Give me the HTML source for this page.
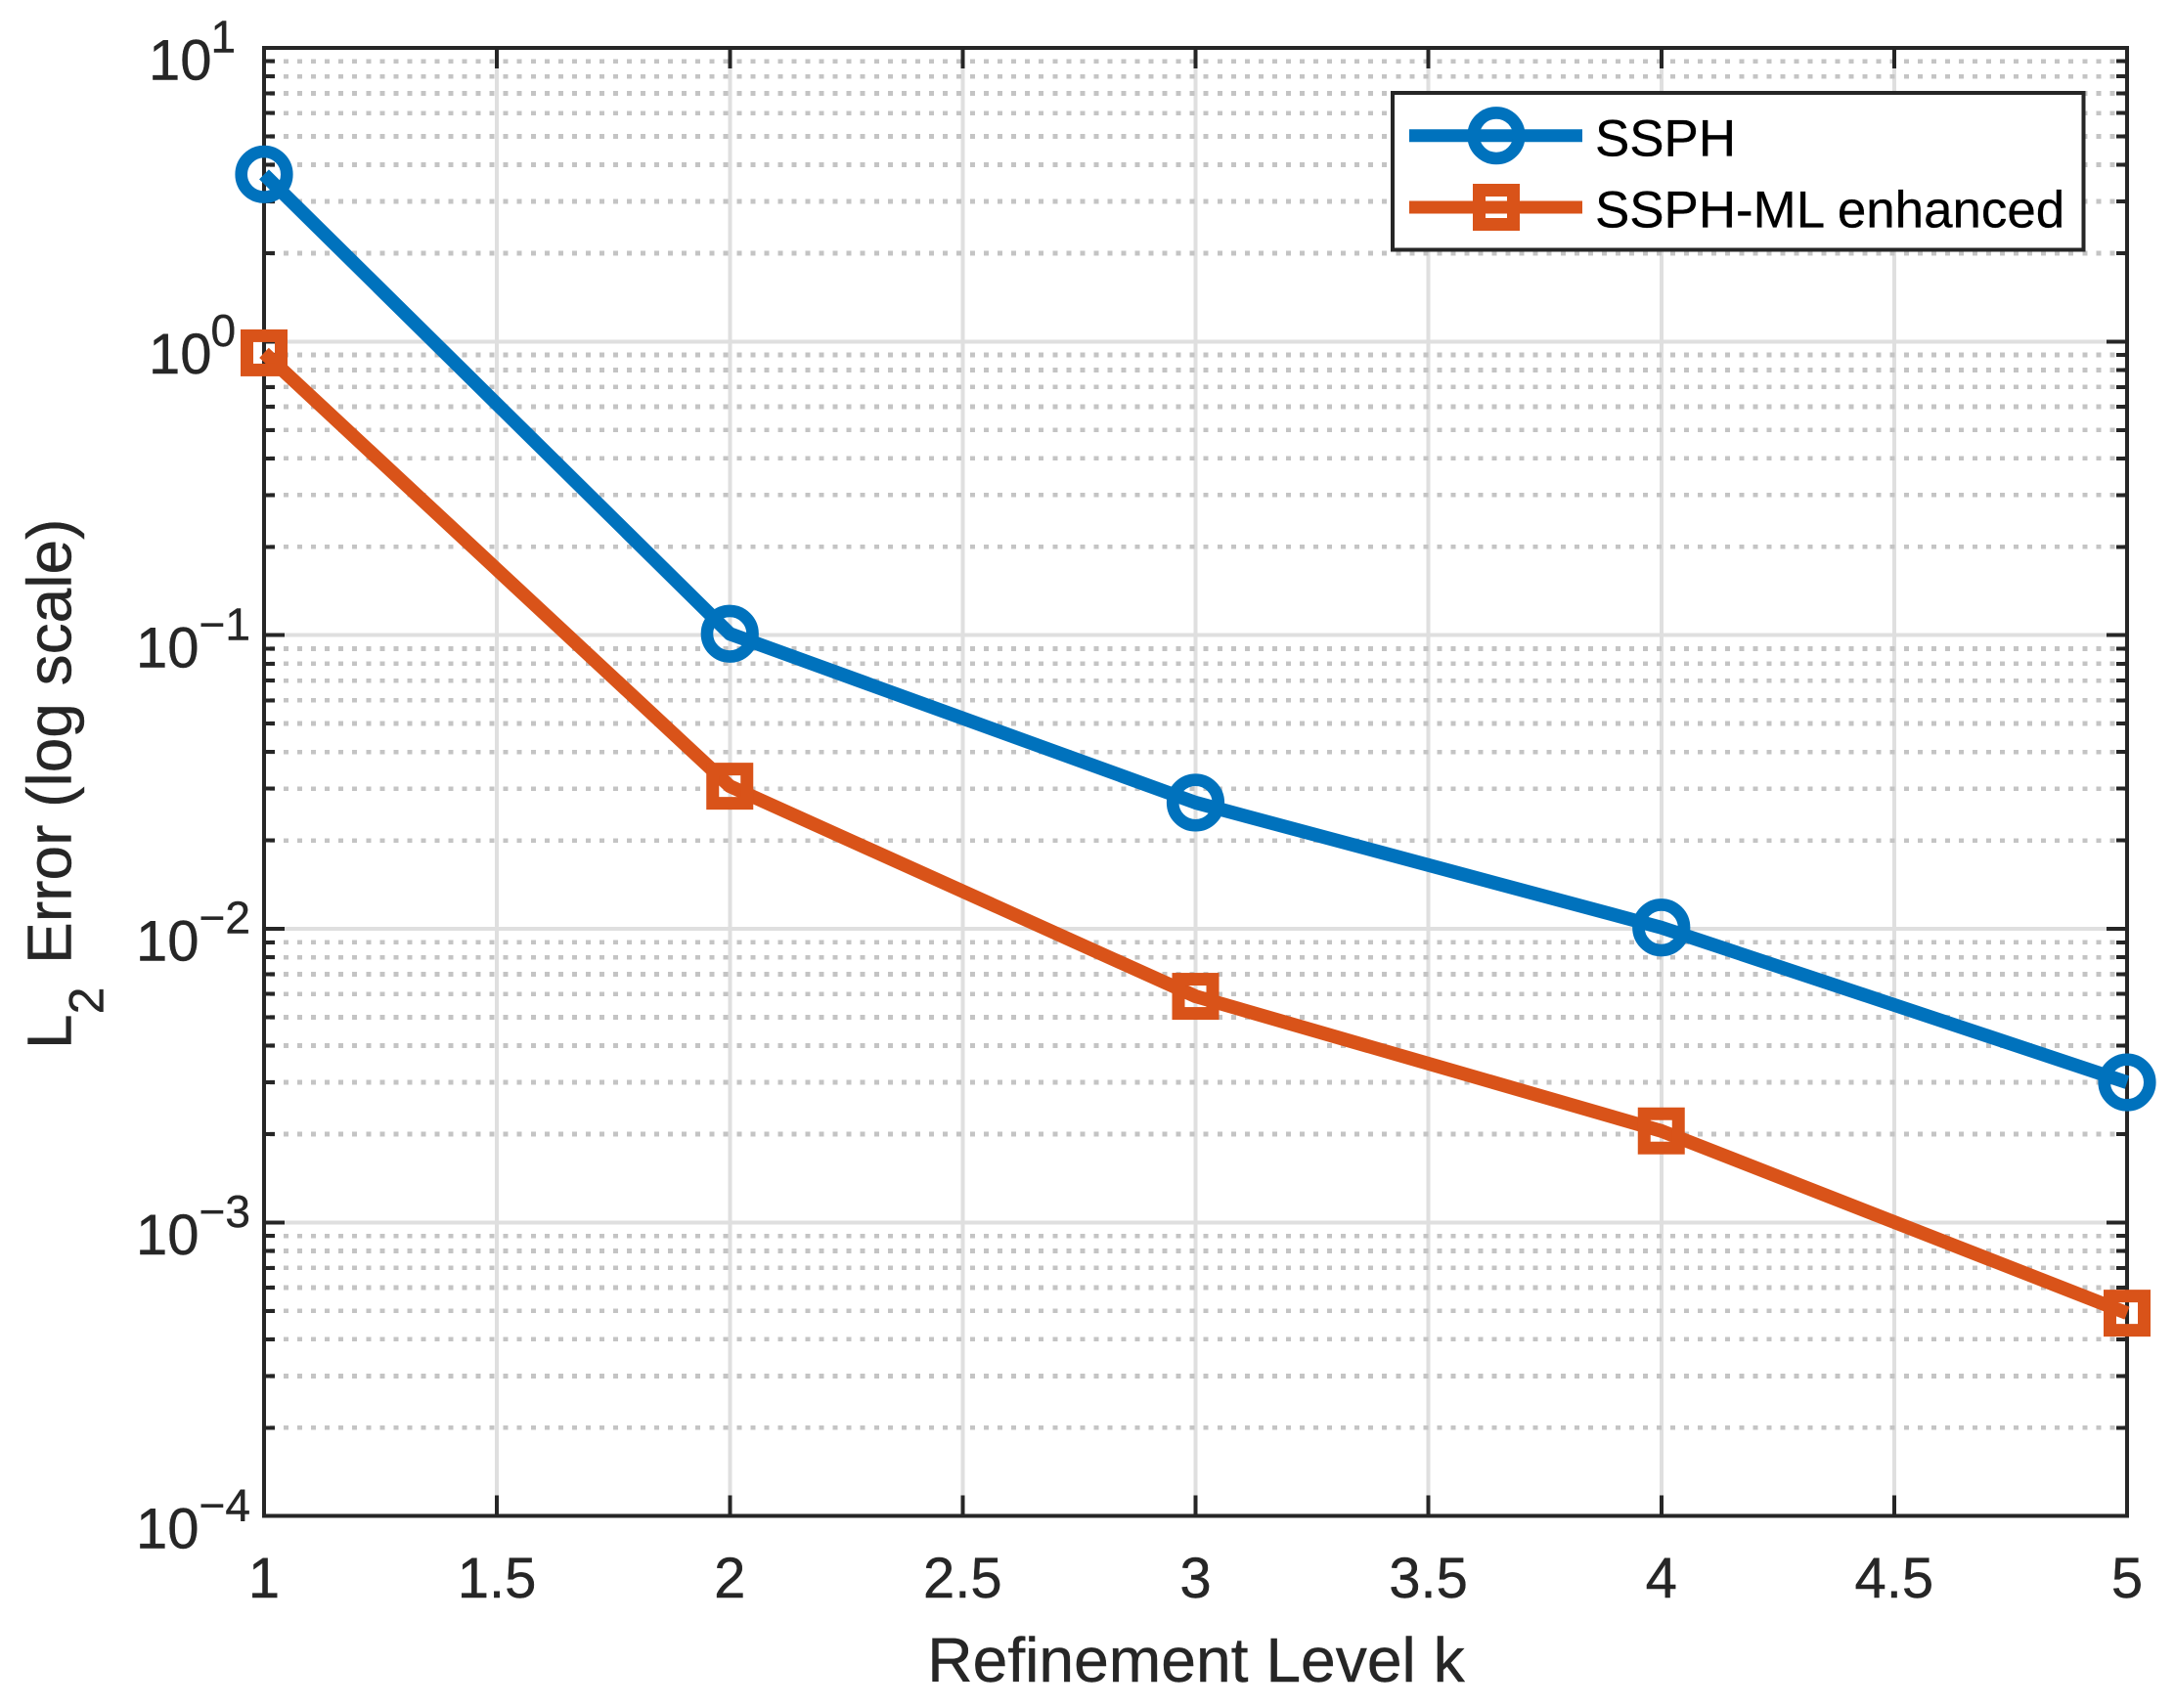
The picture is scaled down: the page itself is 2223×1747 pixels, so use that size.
<!DOCTYPE html>
<html lang="en">
<head>
<meta charset="utf-8">
<title>L2 Error vs Refinement Level</title>
<style>
html,body{margin:0;padding:0;background:#fff;}
svg{display:block;}
text{font-family:"Liberation Sans",Arial,sans-serif;}
</style>
</head>
<body>
<svg id="chart" xmlns="http://www.w3.org/2000/svg" width="2223" height="1747" viewBox="0 0 2223 1747">
  <rect x="0" y="0" width="2223" height="1747" fill="#ffffff"/>
  <g id="grid" shape-rendering="crispEdges"></g>
  <g id="axes" shape-rendering="crispEdges">
    <rect x="270" y="49" width="1905" height="1501.7" fill="none" stroke="#262626" stroke-width="4"/>
  </g>
  <g id="xlabels"></g>
  <g id="ylabels"></g>
  <text x="1223" y="1720" font-size="64.2" fill="#262626" stroke="#262626" stroke-width="0.4" text-anchor="middle">Refinement Level k</text>
  <text transform="translate(72.5,1073) rotate(-90)" font-size="64" fill="#262626" stroke="#262626" stroke-width="0.4">L<tspan font-size="50" dy="33">2</tspan><tspan dy="-33" dx="6"> Error (log scale)</tspan></text>
  <g id="series"></g>
  <g id="legend">
    <rect x="1424" y="95" width="706.7" height="160.7" fill="#ffffff" stroke="#262626" stroke-width="4" shape-rendering="crispEdges"/>
    <g>
      <line x1="1441" y1="138.7" x2="1618" y2="138.7" stroke="#0072BD" stroke-width="13"/>
      <circle cx="1530" cy="138.7" r="23.3" fill="none" stroke="#0072BD" stroke-width="12.6"/>
      <text x="1631" y="159.3" font-size="52.9" fill="#000000" stroke="#000000" stroke-width="0.3">SSPH</text>
    </g>
    <g>
      <line x1="1441" y1="212" x2="1618" y2="212" stroke="#D95319" stroke-width="13"/>
      <rect x="1512.5" y="194.5" width="35" height="35" fill="none" stroke="#D95319" stroke-width="13"/>
      <text x="1631" y="232.7" font-size="52.9" fill="#000000" stroke="#000000" stroke-width="0.3">SSPH-ML enhanced</text>
    </g>
  </g>
</svg>
<script>
const refinementLevels = [1, 2, 3, 4, 5];
const ssphErrors = [3.71, 0.1011, 0.0269, 0.0101, 0.0030];
const ssphMlErrors = [0.915, 0.0306, 0.00589, 0.00205, 0.000491];
const xTickValues = [1, 1.5, 2, 2.5, 3, 3.5, 4, 4.5, 5];
const xTickLabels = ['1', '1.5', '2', '2.5', '3', '3.5', '4', '4.5', '5'];
const yDecadeExponents = [1, 0, -1, -2, -3, -4];
const minorMultipliers = [2, 3, 4, 5, 6, 7, 8, 9];

const NS = 'http://www.w3.org/2000/svg';
const plotLeft = 270, plotRight = 2175, plotTop = 49, plotBottom = 1550.7;
const xMin = 1, xMax = 5, logMin = -4, logMax = 1;
function xScale(v) { return plotLeft + (v - xMin) / (xMax - xMin) * (plotRight - plotLeft); }
function yScale(v) { return plotBottom - (Math.log10(v) - logMin) / (logMax - logMin) * (plotBottom - plotTop); }

function make(tag, attrs) {
  const node = document.createElementNS(NS, tag);
  for (const k in attrs) node.setAttribute(k, attrs[k]);
  return node;
}
const gridG = document.getElementById('grid');
const axesG = document.getElementById('axes');
const xLabG = document.getElementById('xlabels');
const yLabG = document.getElementById('ylabels');
const seriesG = document.getElementById('series');
const axisColor = '#262626';

// vertical major grid, x ticks and labels
xTickValues.forEach(function (v, i) {
  const x = xScale(v);
  if (v !== xMin && v !== xMax) {
    const gl = make('line', {x1: x, x2: x, y1: plotTop, y2: plotBottom, stroke: '#dfdfdf', 'stroke-width': 4});
    
    
    gridG.appendChild(gl);
  }
  const tb = make('line', {x1: x, x2: x, y1: plotBottom, y2: plotBottom - 21, stroke: axisColor, 'stroke-width': 4});
  
  
  axesG.appendChild(tb);
  const tt = make('line', {x1: x, x2: x, y1: plotTop, y2: plotTop + 21, stroke: axisColor, 'stroke-width': 4});
  
  
  axesG.appendChild(tt);
  const lab = make('text', {x: x, y: 1634, 'font-size': 58, fill: axisColor, stroke: axisColor, 'stroke-width': 0.4, 'text-anchor': 'middle'});
  
  
  lab.textContent = xTickLabels[i];
  xLabG.appendChild(lab);
});

// horizontal grid, y ticks and labels
yDecadeExponents.forEach(function (e) {
  const y = yScale(Math.pow(10, e));
  if (e !== logMin && e !== logMax) {
    const gl = make('line', {x1: plotLeft, x2: plotRight, y1: y, y2: y, stroke: '#dfdfdf', 'stroke-width': 4});
    
    
    gridG.appendChild(gl);
  }
  const tl = make('line', {x1: plotLeft, x2: plotLeft + 21, y1: y, y2: y, stroke: axisColor, 'stroke-width': 4});
  
  
  axesG.appendChild(tl);
  const tr = make('line', {x1: plotRight, x2: plotRight - 21, y1: y, y2: y, stroke: axisColor, 'stroke-width': 4});
  
  
  axesG.appendChild(tr);

  const neg = e < 0;
  const lab = make('text', {x: neg ? 139 : 152, y: y + 32.7, 'font-size': 58, fill: axisColor, stroke: axisColor, 'stroke-width': 0.4});
  
  
  lab.appendChild(document.createTextNode('10'));
  const sup = make('tspan', {'font-size': 46, dy: -28, dx: neg ? 0 : -1});
  sup.textContent = (neg ? '\u2212' : '') + Math.abs(e);
  lab.appendChild(sup);
  yLabG.appendChild(lab);

  if (e < logMax) {
    minorMultipliers.forEach(function (m) {
      const my = yScale(m * Math.pow(10, e));
      const dots = make('line', {x1: plotLeft, x2: plotRight, y1: my, y2: my, stroke: '#c4c4c4', 'stroke-width': 4.7, 'stroke-dasharray': '5 9.04', 'stroke-dashoffset': 8.04});
      
      
      gridG.appendChild(dots);
      const ml = make('line', {x1: plotLeft, x2: plotLeft + 11, y1: my, y2: my, stroke: axisColor, 'stroke-width': 4});
      
      
      axesG.appendChild(ml);
      const mr = make('line', {x1: plotRight, x2: plotRight - 11, y1: my, y2: my, stroke: axisColor, 'stroke-width': 4});
      
      
      axesG.appendChild(mr);
    });
  }
});

// SSPH series
const ssphLine = make('polyline', {
  points: refinementLevels.map(function (k, i) { return xScale(k) + ',' + yScale(ssphErrors[i]); }).join(' '),
  fill: 'none', stroke: '#0072BD', 'stroke-width': 14, 'stroke-linejoin': 'round', 'stroke-linecap': 'butt'
});


seriesG.appendChild(ssphLine);
refinementLevels.forEach(function (k, i) {
  const c = make('circle', {cx: xScale(k), cy: yScale(ssphErrors[i]), r: 23.3, fill: 'none', stroke: '#0072BD', 'stroke-width': 12.6});
  
  
  seriesG.appendChild(c);
});

// SSPH-ML enhanced series
const mlLine = make('polyline', {
  points: refinementLevels.map(function (k, i) { return xScale(k) + ',' + yScale(ssphMlErrors[i]); }).join(' '),
  fill: 'none', stroke: '#D95319', 'stroke-width': 14, 'stroke-linejoin': 'round', 'stroke-linecap': 'butt'
});


seriesG.appendChild(mlLine);
refinementLevels.forEach(function (k, i) {
  const half = 17.5;
  const r = make('rect', {x: xScale(k) - half, y: yScale(ssphMlErrors[i]) - half, width: 2 * half, height: 2 * half, fill: 'none', stroke: '#D95319', 'stroke-width': 13});
  
  
  seriesG.appendChild(r);
});
</script>
</body>
</html>
